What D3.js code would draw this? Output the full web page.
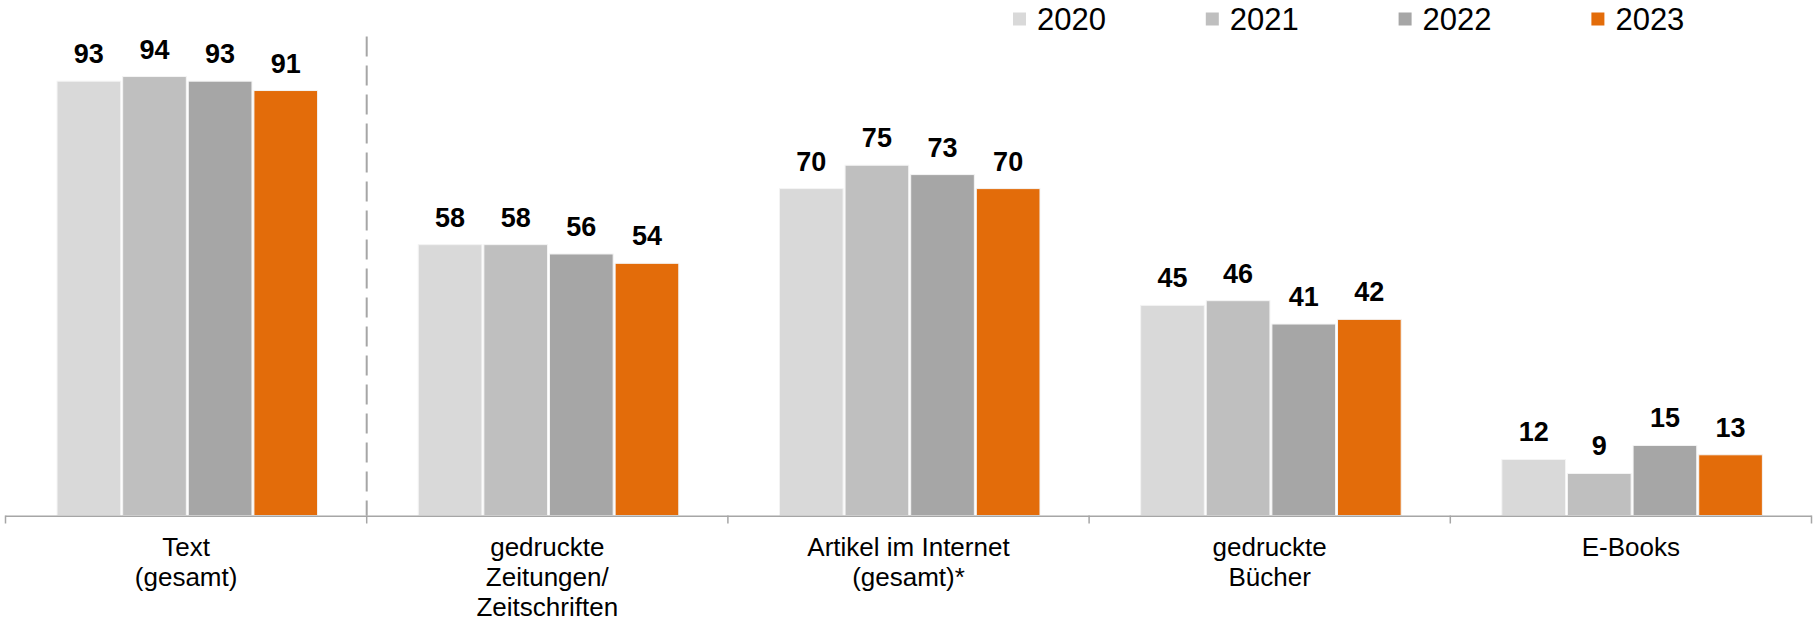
<!DOCTYPE html>
<html>
<head>
<meta charset="utf-8">
<script src="https://cdn.jsdelivr.net/npm/d3@7"></script>
<style>
  html, body { margin: 0; padding: 0; background: #fff; }
  svg { display: block; font-family: "Liberation Sans", Arial, sans-serif; }
</style>
</head>
<body>
<svg id="chart" width="1816" height="620"></svg>
<script>
const categories = [
  ["Text", "(gesamt)"],
  ["gedruckte", "Zeitungen/", "Zeitschriften"],
  ["Artikel im Internet", "(gesamt)*"],
  ["gedruckte", "Bücher"],
  ["E-Books"]
];
const years = ["2020", "2021", "2022", "2023"];
const values2020 = [93, 58, 70, 45, 12];
const values2021 = [94, 58, 75, 46, 9];
const values2022 = [93, 56, 73, 41, 15];
const values2023 = [91, 54, 70, 42, 13];
const colors = ["#d9d9d9", "#bfbfbf", "#a6a6a6", "#e36c0a"];

const series = [values2020, values2021, values2022, values2023];
const catKeys = categories.map(c => c.join(" "));

const svg = d3.select("#chart");
const baseY = 515.5;

const x0 = d3.scaleBand().domain(catKeys).range([5.5, 1811.5]).padding(0);
const bw = x0.bandwidth();
const x1 = d3.scaleBand().domain(years).range([bw * 0.1427, bw * 0.8640]).paddingInner(0.03);
const y = d3.scaleLinear().domain([0, 100]).range([baseY, baseY - 467]);

// separator dashed line after first category
svg.append("line")
  .attr("x1", x0(catKeys[1])).attr("x2", x0(catKeys[1]))
  .attr("y1", 36.5).attr("y2", baseY)
  .attr("stroke", "#a6a6a6").attr("stroke-width", 2)
  .attr("stroke-dasharray", "20,9");

// bars
const groups = svg.append("g").selectAll("g")
  .data(catKeys).join("g")
  .attr("transform", d => `translate(${x0(d)},0)`);

groups.each(function(cat, ci) {
  const g = d3.select(this);
  years.forEach((yr, si) => {
    const v = series[si][ci];
    g.append("rect")
      .attr("x", x1(yr)).attr("width", x1.bandwidth())
      .attr("y", y(v)).attr("height", y(0) - y(v))
      .attr("fill", colors[si])
      .attr("stroke", "#f4f4f4").attr("stroke-width", 1);
    g.append("text")
      .attr("x", x1(yr) + x1.bandwidth() / 2)
      .attr("y", y(v) - 18)
      .attr("text-anchor", "middle")
      .attr("font-size", 27).attr("font-weight", "bold")
      .attr("fill", "#000")
      .text(v);
  });
});

// axis line & ticks
svg.append("line")
  .attr("x1", x0.range()[0]).attr("x2", x0.range()[1])
  .attr("y1", baseY + 0.75).attr("y2", baseY + 0.75)
  .attr("stroke", "#a6a6a6").attr("stroke-width", 1.5);
const bounds = catKeys.map(k => x0(k)).concat([x0.range()[1]]);
svg.append("g").selectAll("line").data(bounds).join("line")
  .attr("x1", d => d).attr("x2", d => d)
  .attr("y1", baseY).attr("y2", baseY + 8)
  .attr("stroke", "#a6a6a6").attr("stroke-width", 1.5);

// category labels
svg.append("g").selectAll("text").data(categories).join("text")
  .attr("x", (d, i) => x0(catKeys[i]) + bw / 2)
  .attr("y", 556)
  .attr("text-anchor", "middle")
  .attr("font-size", 26)
  .attr("fill", "#000")
  .each(function(lines) {
    const t = d3.select(this);
    lines.forEach((ln, li) => {
      t.append("tspan")
        .attr("x", t.attr("x"))
        .attr("dy", li === 0 ? 0 : 30)
        .text(ln);
    });
  });

// legend
const legend = svg.append("g").selectAll("g").data(years).join("g")
  .attr("transform", (d, i) => `translate(${1013 + i * 192.8},0)`);
legend.append("rect")
  .attr("x", 0).attr("y", 12.5).attr("width", 13).attr("height", 13)
  .attr("fill", (d, i) => colors[i]);
legend.append("text")
  .attr("x", 24).attr("y", 29.5)
  .attr("font-size", 31)
  .attr("fill", "#000")
  .text(d => d);
</script>
</body>
</html>
